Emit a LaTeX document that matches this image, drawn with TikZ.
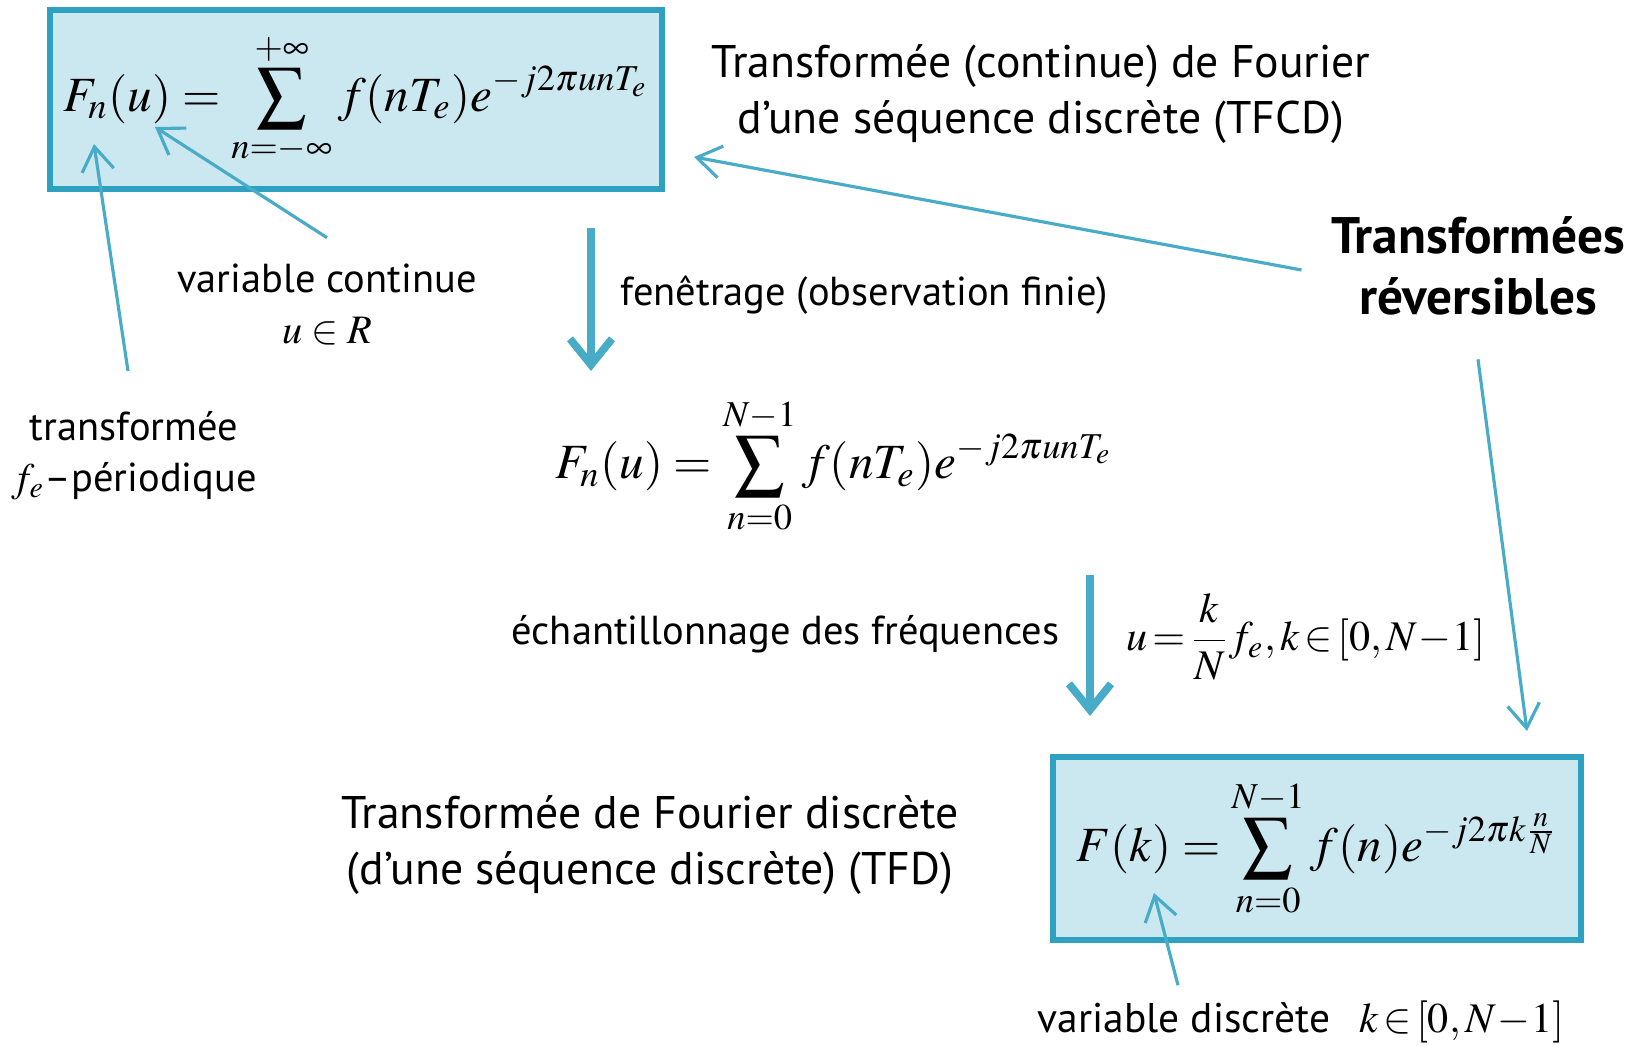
\documentclass[tikz,border=0pt]{standalone}
\usepackage{amsmath}
\usepackage{mathptmx}
\usepackage[no-math]{fontspec}
\setmainfont{PT Sans}
\usepackage{tikz}
\usetikzlibrary{arrows.meta,positioning}
\definecolor{tfblue}{RGB}{203,231,239}
\definecolor{tfline}{RGB}{46,160,192}
\definecolor{tfarrow}{RGB}{72,172,200}

\begin{document}
\begin{tikzpicture}[x=0.01cm,y=-0.01cm,>=Stealth,
      lbl/.style={inner sep=0pt,align=center,font=\fontsize{11.5}{14.5}\selectfont},
      biglbl/.style={lbl,font=\fontsize{13}{15.7}\selectfont},
      eq/.style={inner sep=0pt,font=\fontsize{14}{17}\selectfont},
      eqbox/.style={draw=tfline,line width=1.8pt,fill=tfblue,inner sep=0pt,font=\fontsize{14}{17}\selectfont},
      bigarrow/.style={draw=tfarrow,line width=2.2pt,-{Straight Barb[length=2.6mm,width=4.2mm]}},
      thinarrow/.style={draw=tfarrow,line width=0.9pt,-{Straight Barb[length=2.4mm,width=3.2mm]}}]
      \useasboundingbox (0,0) rectangle (1638,1046);
      % the two transforms in boxes
      \node[eqbox,minimum width=6.12cm,minimum height=1.79cm] (tfcd) at (356,99.5)
        {$\displaystyle F_n(u)=\sum_{n=-\infty}^{+\infty} f(nT_e)e^{-j2\pi unT_e}$};
      \node[eqbox,minimum width=5.28cm,minimum height=1.83cm] (tfd) at (1317,848.5)
        {$\displaystyle F(k)=\sum_{n=0}^{N-1} f(n)e^{-j2\pi k\frac{n}{N}}$};
      \node[eq] (fenq) at (834,466)
        {$\displaystyle F_n(u)=\sum_{n=0}^{N-1} f(nT_e)e^{-j2\pi unT_e}$};
      % labels
      \node[biglbl] (tfcdlbl) at (1041,94) {Transformée (continue) de Fourier\\d’une séquence discrète (TFCD)};
      \node[lbl,font=\fontsize{14.6}{17.5}\selectfont\bfseries] (rev) at (1478,266) {Transformées\\réversibles};
      \node[lbl,anchor=west] (fen) at (620,295) {fenêtrage (observation finie)};
      \node[lbl] (vc) at (327,304) {variable continue\\$u\in R$};
      \node[lbl] (per) at (134,456) {transformée\\$f_e$--périodique};
      \node[lbl,anchor=east] (ech) at (1060,634) {échantillonnage des fréquences};
      \node[lbl,anchor=west,font=\fontsize{12}{14}\selectfont] (ucond) at (1126,637)
        {$u\!=\!\dfrac{k}{N}f_e, k\!\in\![0,N\!-\!1]$};
      \node[biglbl] (tfdlbl) at (650,845) {Transformée de Fourier discrète\\(d’une séquence discrète) (TFD)};
      \node[lbl,anchor=west,font=\fontsize{11.8}{14}\selectfont] (vd) at (1037,1022)
        {variable discrète\hspace{0.7em}{\fontsize{12}{14}\selectfont$k\!\in\![0,N\!-\!1]$}};
      % free ends
      \coordinate (pF) at (94,144);
      \coordinate (pu) at (155,127);
      \coordinate (ptop) at (694,157);
      \coordinate (pbot) at (1527,731);
      \coordinate (pk) at (1154,893);
      \coordinate (a1) at (591,228);
      \coordinate (a2) at (591,371);
      \coordinate (b1) at (1090,575);
      \coordinate (b2) at (1090,716);
      % arrows
      \draw[bigarrow] (a1) -- (a2);
      \draw[bigarrow] (b1) -- (b2);
      \draw[thinarrow] ([shift={(-6,-40)}]per.north) -- (pF);
      \draw[thinarrow] ([shift={(0,-25)}]vc.north) -- (pu);
      \draw[thinarrow] ([shift={(-29,4)}]rev.west) -- (ptop);
      \draw[thinarrow] ([shift={(0,43)}]rev.south) -- (pbot);
      \draw[thinarrow] ([shift={(141,-15)}]vd.north west) -- (pk);
    \end{tikzpicture}
\end{document}
